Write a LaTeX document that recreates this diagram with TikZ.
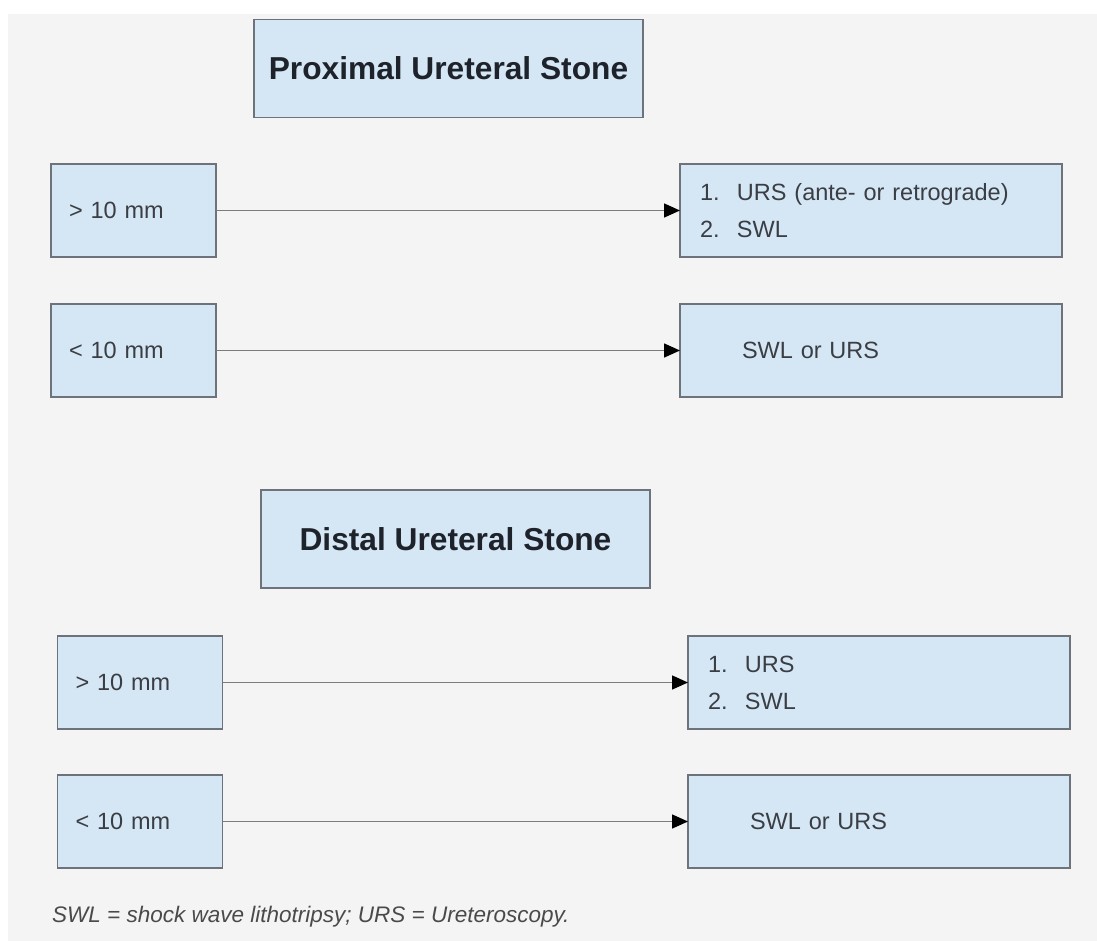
\documentclass[tikz,border=0pt]{standalone}
\usepackage{fontspec}
\setmainfont{Liberation Sans}
\usetikzlibrary{arrows.meta}
\definecolor{bg}{HTML}{F4F4F4}
\definecolor{boxfill}{HTML}{D5E6F4}
\definecolor{boxline}{HTML}{6E737B}
\definecolor{txt}{HTML}{3A3E44}
\definecolor{ttl}{HTML}{1E222A}
\definecolor{arrowline}{HTML}{7C7C7C}
\definecolor{note}{HTML}{4A4A4A}
\begin{document}
\begin{tikzpicture}[x=1pt,y=-1pt,
  box/.style={draw=boxline, line width=1.5pt, fill=boxfill, inner ysep=0pt, outer sep=0pt,
    text=txt, font=\fontsize{23.5}{37}\selectfont},
  leftbox/.style={box, minimum width=165pt, minimum height=93pt, inner xsep=18pt, text width=129pt, align=left},
  rightbox/.style={box, minimum width=382pt, minimum height=93pt, inner xsep=20pt, text width=342pt, align=left},
  titlebox/.style={box, minimum width=389pt, minimum height=98pt, inner xsep=0pt, text=ttl,
    font=\fontsize{31.7}{38}\selectfont\bfseries},
  conn/.style={draw=arrowline, line width=1.5pt, -{Triangle[length=16pt,width=14pt,color=black,fill=black]}},
  notetext/.style={text=note, font=\fontsize{22.5}{27}\selectfont\itshape, inner sep=0pt}
]
\useasboundingbox (0,0) rectangle (1097,941);
\fill[white] (0,0) rectangle (1097,941);
\fill[bg] (8,14) rectangle (1097,941);

% Proximal
\node[titlebox] (t1) at (448.5,68.5) {Proximal Ureteral Stone};
\node[leftbox] (p1l) at (133.5,210.5) {> 10 mm};
\node[rightbox] (p1r) at (871,210.5) {\makebox[37pt][l]{1.}URS (ante- or retrograde)\\\makebox[37pt][l]{2.}SWL};
\node[leftbox] (p2l) at (133.5,350.5) {< 10 mm};
\node[rightbox] (p2r) at (871,350.5) {\hspace*{42pt}SWL or URS};
\draw[conn] (p1l.east) -- (p1r.west);
\draw[conn] (p2l.east) -- (p2r.west);

% Distal
\node[titlebox] (t2) at (455.5,539) {Distal Ureteral Stone};
\node[leftbox] (d1l) at (140,682.5) {> 10 mm};
\node[rightbox] (d1r) at (879,682.5) {\makebox[37pt][l]{1.}URS\\\makebox[37pt][l]{2.}SWL};
\node[leftbox] (d2l) at (140,821.5) {< 10 mm};
\node[rightbox] (d2r) at (879,821.5) {\hspace*{42pt}SWL or URS};
\draw[conn] (d1l.east) -- (d1r.west);
\draw[conn] (d2l.east) -- (d2r.west);

\node[notetext, anchor=base west] (note) at (52,922) {SWL = shock wave lithotripsy; URS = Ureteroscopy.};
\end{tikzpicture}
\end{document}
